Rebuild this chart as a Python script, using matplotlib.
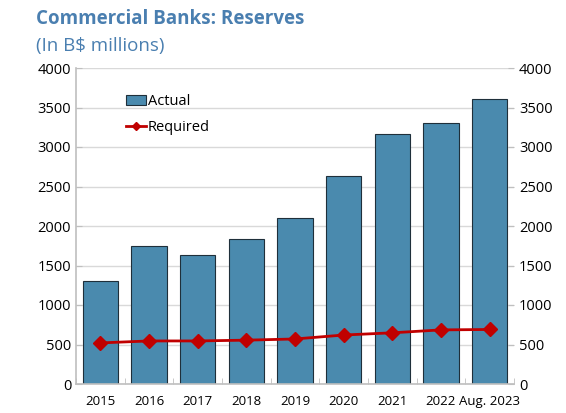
import numpy as np
import matplotlib
matplotlib.use("Agg")
import matplotlib.pyplot as plt

plt.rcParams['font.family'] = ['Open Sans', 'DejaVu Sans']

# data
years = ["2015", "2016", "2017", "2018", "2019", "2020", "2021", "2022", "Aug. 2023"]
actual = [1310, 1750, 1635, 1835, 2100, 2635, 3165, 3305, 3610]
required = [520, 545, 545, 555, 570, 620, 648, 685, 690]

BAR = "#4a8aae"
RED = "#c00000"
GRID = "#d9d9d9"

fig = plt.figure(figsize=(5.66, 4.13), dpi=100)
ax = fig.add_axes([76 / 566, 29 / 413, 438 / 566, 316 / 413])

x = np.arange(len(years))
bars = ax.bar(x, actual, width=0.72, color=BAR, edgecolor="#1f2f3a", linewidth=0.8,
              label="Actual", zorder=2)
line, = ax.plot(x, required, color=RED, marker="D", markersize=7, linewidth=2,
                label="Required", zorder=3)

ax.set_xlim(-0.5, len(years) - 0.5)
ax.set_ylim(0, 4000)
ax.set_yticks(np.arange(0, 4001, 500))
ax.yaxis.grid(True, color=GRID, linewidth=1, zorder=0)
ax.set_axisbelow(True)

ax.set_xticks(x)
ax.set_xticklabels(years)
ax.set_xticks(np.arange(-0.5, len(years), 1), minor=True)
ax.tick_params(axis="x", which="major", length=0, labelsize=9.5, pad=8)
ax.tick_params(axis="x", which="minor", length=4, color="#bfbfbf", direction="in")
ax.tick_params(axis="y", labelsize=10.5, length=4, color="#bfbfbf", direction="in")

for s in ["top", "right"]:
    ax.spines[s].set_visible(False)
for s in ["left", "bottom"]:
    ax.spines[s].set_color("#bfbfbf")
    ax.spines[s].set_linewidth(1.2)

ax2 = ax.twinx()
ax2.set_ylim(0, 4000)
ax2.set_yticks(np.arange(0, 4001, 500))
ax2.tick_params(axis="y", labelsize=10.5, length=4, color="#bfbfbf", direction="in")
for s in ax2.spines.values():
    s.set_visible(False)

leg = ax.legend([bars, line], ["Actual", "Required"], loc="upper left",
                bbox_to_anchor=(0.1, 0.935), frameon=False, markerscale=0.6,
                fontsize=10.5, handlelength=1.4, handletextpad=0.1,
                labelspacing=0.75, borderaxespad=0)

fig.text(36 / 566, 1 - 19 / 413, "Commercial Banks: Reserves", fontsize=13.5,
         fontweight="bold", color="#4a7fb0", va="center", ha="left")
fig.text(36 / 566, 1 - 46 / 413, "(In B$ millions)", fontsize=13.5,
         color="#4a7fb0", va="center", ha="left")

fig.savefig("out.png", dpi=100)
